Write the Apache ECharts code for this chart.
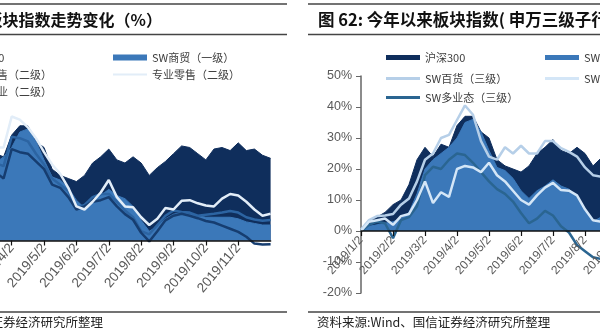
<!DOCTYPE html>
<html><head><meta charset="utf-8">
<script src="https://cdn.jsdelivr.net/npm/echarts@6/dist/echarts.min.js"></script>
<style>html,body{margin:0;padding:0;background:#fff}#c{width:600px;height:333px}</style>
</head><body><div id="c"></div>
<script>
// tick labels (one per month, position = months since 2019/1/2)
const xLabels = ['2019/1/2','2019/2/2','2019/3/2','2019/4/2','2019/5/2','2019/6/2','2019/7/2','2019/8/2','2019/9/2','2019/10/2','2019/11/2','2019/12/2'];
const yLabelsRight = ['-20%','-10%','0%','10%','20%','30%','40%','50%'];

// sample positions (months since 2019/1/2)
const tAll = [0,0.25,0.5,0.75,1,1.25,1.5,1.75,2,2.25,2.5,2.75,3,3.25,3.5,3.75,4,4.25,4.5,4.75,5,5.25,5.5,5.75,6,6.25,6.5,6.75,7,7.25,7.5,7.75,8,8.25,8.5,8.75,9,9.25,9.5,9.75,10,10.25,10.5,10.75,11];
const tLeft = [2.5,2.75,3,3.25,3.5,3.75,4,4.25,4.5,4.75,5,5.25,5.5,5.75,6,6.25,6.5,6.75,7,7.25,7.5,7.75,8,8.25,8.5,8.75,9,9.25,9.5,9.75,10,10.25,10.5,10.75,11];
const tRight = [0,0.25,0.5,0.75,1,1.25,1.5,1.75,2,2.25,2.5,2.75,3,3.25,3.5,3.75,4,4.25,4.5,4.75,5,5.25,5.5,5.75,6,6.25,6.5,6.75,7,7.25,7.5];

// shared series (%)
const hs300 = [0,3,4.5,6,8.5,10,15,23,27,24,28,27,34,37,37,32,30,23,21,20,19,21,25,27,29.5,26,25,27,25,21,23.5,25.5,28,30.5,30,28,26,29.5,30,29,31.5,29,29.5,27.5,26.5];
const swShangmao = [0,1.5,2,2.5,3,4,6,12,20,23,25,27,30,35,36,32,26,20.5,19.5,17,13,10.5,13,14.5,16.5,14.5,13.5,11,6.5,3,4.5,7,8.5,9,8.5,8,7.5,7.5,7.5,7.5,7,6,5.5,5,5];
// left chart lines (%)
const zhuanyeLingshou = [30,30,40,39,36.5,33,28.5,24.5,21.5,17,11,10,12.5,15.5,19.5,14,11,10.7,7.5,5,7,10.5,10,12.8,13,12,11.3,11,13.5,15,14.5,12.5,10,8,8.6];
const yibanLingshou = [22,20,29.5,28.5,28,25.5,23,18,17,14,10,11,12.5,13,14,11,8.5,6.7,2.5,-0.3,3,6.5,8,8.6,8,7.2,6.3,5.8,4.8,3.8,2.8,1.2,-1,-1.3,-1.2];
const shangyeWuye = [25,24,33.5,33,32,28,24.5,20,18,16,10.5,11.5,14,15,15,12.5,9.7,7.5,3,2,5,8,9.7,9.2,9,8,8.3,8.6,9,9.5,9,7.5,6.8,6.4,6.6];
// right chart lines (%)
const swBaihuo = [0.5,3.5,4.8,5,5.5,8.5,10.5,16,23,25,30,31,35.8,40.5,37.5,29,24,23,27,25,27.5,25,25,29,29,26.7,25.5,24,20.5,18,17.5];
const swChaoshi = [0,3,3.5,4,2,4.8,5.5,10,16,9,12.5,11,20,21,20.5,19,22,18,16,13,10,8.5,11.5,14,15.5,13.2,13,11.5,7,3.5,3];
const swDuoyetai = [0,2,3,2.5,-2.3,3.5,4.5,8,18,20.7,20,23,25,24.5,22,19,16,13.5,12,9.5,5.8,2.5,4,6.5,5,1.5,-0.5,-4.5,-6.5,-8.5,-9];

const C_NAVY = '#0f2e5c', C_MID = '#3b78b9';
const zip = (t, v) => t.map((x, i) => [x, v[i]]);
function area(name, t, v, color, gi) {
  return {type:'line', name, xAxisIndex:gi, yAxisIndex:gi, data:zip(t, v), symbol:'none',
    lineStyle:{width:1, color}, itemStyle:{color}, areaStyle:{color, opacity:1}, z:2};
}
function line(name, t, v, color, w, gi, z) {
  return {type:'line', name, xAxisIndex:gi, yAxisIndex:gi, data:zip(t, v), symbol:'none',
    lineStyle:{width:w, color}, itemStyle:{color}, z:z || 3};
}
// hidden data axes
function dataX(gi) {
  return {type:'value', gridIndex:gi, min:0, max:11, interval:1, show:false};
}
// visible month axes, drawn on a grid whose bottom edge is the 0% line
function monthAxis(gi, showMax, fs, rot, mg) {
  return {type:'value', gridIndex:gi, position:'bottom', min:0, max:11, interval:1,
    axisLine:{show:true, onZero:false, lineStyle:{color:'#111', width:1.5}},
    axisTick:{show:true, length:5, lineStyle:{color:'#111', width:1.2}},
    axisLabel:{rotate:rot, margin:mg, color:'#595959', fontSize:fs, fontFamily:'Liberation Sans',
      showMaxLabel:showMax, formatter:v => xLabels[Math.round(v)]},
    splitLine:{show:false}, z:5};
}
function legendItem(name, left, top, h) {
  return {data:[{name, icon:'rect'}], left, top, padding:0, itemWidth:34, itemHeight:h, itemGap:0,
    itemStyle:{borderWidth:0}, selectedMode:false,
    textStyle:{fontSize:11, color:'#404040', fontFamily:'Noto Sans CJK SC'}};
}
const titleFont = 'bold 16px "Noto Sans CJK SC"';
const srcFont = '12.5px "Noto Sans CJK SC"';
function hline(x1, x2, y) {
  return {type:'line', shape:{x1, y1:y, x2, y2:y}, style:{stroke:'#444', lineWidth:1.5}};
}
const G = {outerBoundsMode:'none', containLabel:false};

const chart = echarts.init(document.getElementById('c'));
chart.setOption({
  animation:false,
  grid:[
    Object.assign({left:-85.4, top:85.5, width:356, height:217}, G),
    Object.assign({left:361, top:76, width:352, height:217}, G),
    Object.assign({left:-85.4, top:85.5, width:356, height:155}, G),
    Object.assign({left:361, top:76, width:352, height:155}, G)
  ],
  xAxis:[dataX(0), dataX(1), monthAxis(2, false, 13.5, 50, 5), monthAxis(3, true, 12, 48, 7)],
  yAxis:[
    {type:'value', gridIndex:0, min:-20, max:50, interval:10, show:false},
    {type:'value', gridIndex:1, min:-20, max:50, interval:10,
     axisLine:{show:true, onZero:false, lineStyle:{color:'#666', width:1.5}},
     axisTick:{show:true, length:5, lineStyle:{color:'#666'}},
     axisLabel:{margin:9, color:'#595959', fontSize:12.5, fontFamily:'Liberation Sans',
       formatter:v => yLabelsRight[Math.round((v + 20) / 10)]},
     splitLine:{show:false}},
    {type:'value', gridIndex:2, min:0, max:1, show:false},
    {type:'value', gridIndex:3, min:0, max:1, show:false}
  ],
  legend:[
    legendItem('沪深300', -75, 52, 6),
    legendItem('一般零售（二级）', -75, 69, 3),
    legendItem('商业物业（二级）', -75, 86, 3),
    legendItem('SW商贸（一级）', 113, 52, 6),
    legendItem('专业零售（二级）', 113, 69, 2),
    legendItem('沪深300', 386, 52, 5),
    legendItem('SW商贸（一级）', 545, 52, 5),
    legendItem('SW百货（三级）', 386, 73, 3),
    legendItem('SW超市（三级）', 545, 73, 3),
    legendItem('SW多业态（三级）', 386, 92, 3)
  ],
  series:[
    area('沪深300', tAll, hs300, C_NAVY, 0),
    area('SW商贸（一级）', tAll, swShangmao, C_MID, 0),
    line('商业物业（二级）', tLeft, shangyeWuye, '#2c64a2', 2.5, 0),
    line('一般零售（二级）', tLeft, yibanLingshou, '#163d70', 2.5, 0),
    line('专业零售（二级）', tLeft, zhuanyeLingshou, '#e2edf8', 2.5, 0, 4),
    area('沪深300', tAll, hs300, C_NAVY, 1),
    area('SW商贸（一级）', tAll, swShangmao, C_MID, 1),
    line('SW多业态（三级）', tRight, swDuoyetai, '#2a6591', 2.5, 1),
    line('SW百货（三级）', tRight, swBaihuo, '#b6cfe8', 2.5, 1),
    line('SW超市（三级）', tRight, swChaoshi, '#d4e6f7', 2.5, 1, 4)
  ],
  graphic:[
    hline(0, 287, 4), hline(0, 287, 34.5), hline(308, 600, 4), hline(308, 600, 34.5),
    hline(0, 287, 312), hline(308, 600, 312),
    {type:'text', x:162, y:20, style:{text:'图 61：今年以来板块指数走势变化（%）', font:titleFont, fill:'#111', align:'right', verticalAlign:'middle'}},
    {type:'text', x:318, y:20, style:{text:'图 62: 今年以来板块指数( 申万三级子行业)(%)', font:'bold 16.5px "Noto Sans CJK SC"', fill:'#111', align:'left', verticalAlign:'middle'}},
    {type:'text', x:103, y:322, style:{text:'资料来源：Wind、国信证券经济研究所整理', font:srcFont, fill:'#222', align:'right', verticalAlign:'middle'}},
    {type:'text', x:317, y:322, style:{text:'资料来源:Wind、国信证券经济研究所整理', font:srcFont, fill:'#222', align:'left', verticalAlign:'middle'}}
  ]
});
</script></body></html>
